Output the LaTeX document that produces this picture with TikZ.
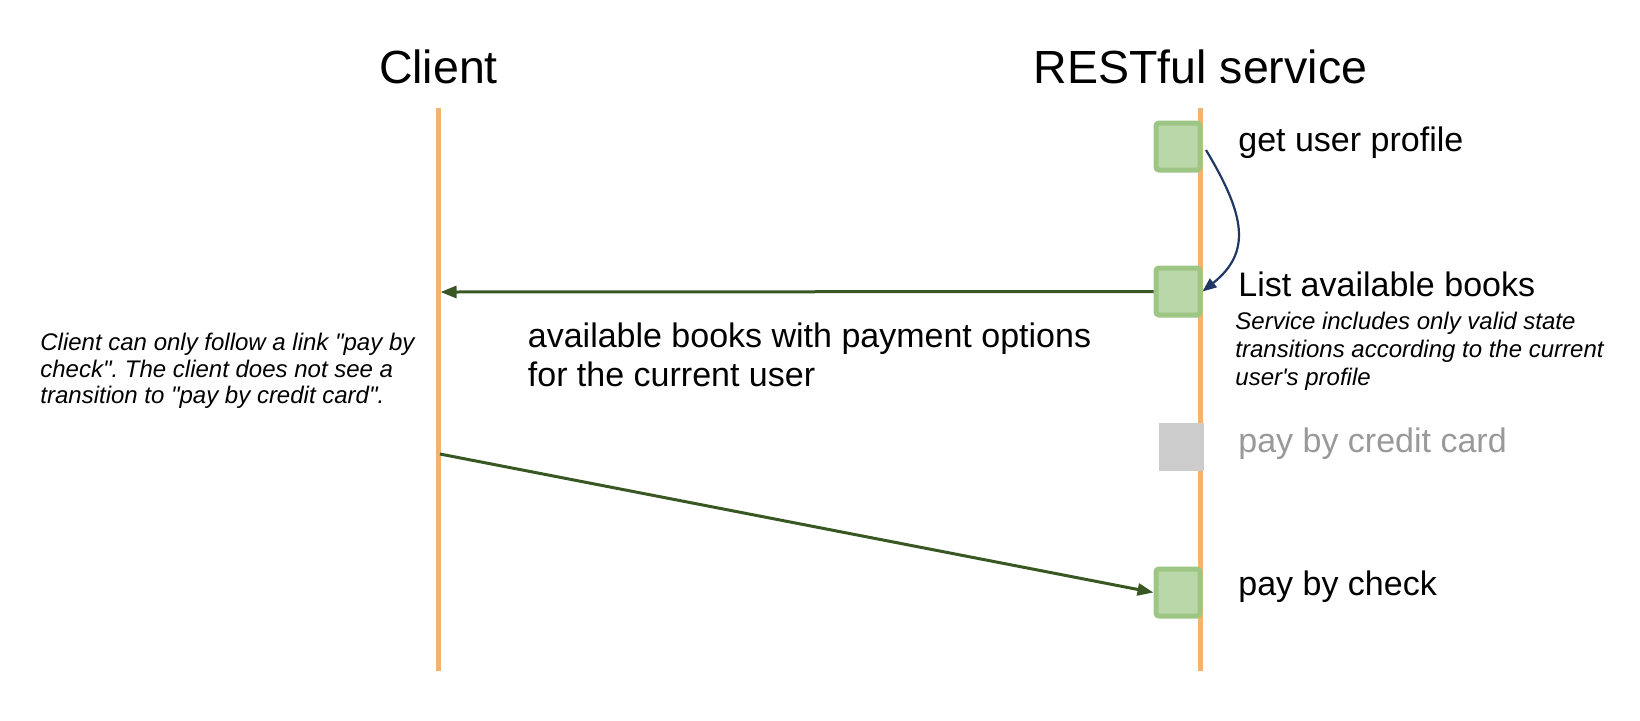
\documentclass[tikz,border=0pt]{standalone}
\usepackage{fontspec}
\setmainfont{Liberation Sans}
\newfontfamily\noteface{Liberation Sans}
\usetikzlibrary{arrows.meta}
\definecolor{lifeorange}{RGB}{241,180,112}
\definecolor{boxfill}{RGB}{185,215,168}
\definecolor{boxline}{RGB}{157,197,131}
\definecolor{greybox}{RGB}{204,204,204}
\definecolor{greytext}{RGB}{153,153,153}
\definecolor{arrowgreen}{RGB}{56,87,35}
\definecolor{navy}{RGB}{31,56,100}
\tikzset{
  titletext/.style={font=\fontsize{23.25}{28}\selectfont, anchor=base, inner sep=0pt},
  lifeline/.style={draw=lifeorange, line width=2.5pt},
  actbox/.style={draw=boxline, fill=boxfill, line width=2.5pt, rounded corners=1.5pt,
     minimum width=22pt, minimum height=23.5pt, inner sep=0pt},
  greyactbox/.style={fill=greybox, minimum width=22.5pt, minimum height=24pt, inner sep=0pt},
  steplabel/.style={font=\fontsize{17}{19.5}\selectfont, anchor=base west, inner sep=0pt},
  notetext/.style={align=left, anchor=north west, inner sep=0pt},
  msgarrow/.style={draw=arrowgreen, line width=1.5pt, -{Triangle[length=8pt,width=6pt]}},
  selfarrow/.style={draw=navy, line width=1.1pt, -{Triangle[length=7pt,width=5.5pt]}}
}
\frenchspacing
\begin{document}
\begin{tikzpicture}[x=0.5pt, y=-0.5pt]
\useasboundingbox (0,0) rectangle (1640,720);
% titles
\node[titletext] (ct) at (438.5,83) {Client};
\node[titletext] (st) at (1200.5,83) {RESTful service};
% lifelines
\coordinate (ctop) at (438,108);
\coordinate (cbot) at (438,671);
\coordinate (stop) at (1200.5,108);
\coordinate (sbot) at (1200.5,671);
\draw[lifeline] (ctop) -- (cbot);
\draw[lifeline] (stop) -- (sbot);
% activation boxes
\node[actbox] (box1) at (1178,146.5) {};
\node[actbox] (box2) at (1178,291.5) {};
\node[greyactbox] (box3) at (1181.5,447) {};
\node[actbox] (box4) at (1178,592.5) {};
% labels
\node[steplabel] (l1) at (1238,151) {get user profile};
\node[steplabel] (l2) at (1238,296) {List available books};
\node[steplabel, text=greytext] (l3) at (1238,452) {pay by credit card};
\node[steplabel] (l4) at (1238,595) {pay by check};
\node[notetext, font=\noteface\fontsize{12}{14}\selectfont\itshape] (rnote) at (1235,312)
  {Service includes only valid state\\transitions according to the current\\user's profile};
\node[notetext, font=\noteface\fontsize{12}{13.25}\selectfont\itshape] (lnote) at (40,333)
  {Client can only follow a link "pay by\\check". The client does not see a\\transition to "pay by credit card".};
\node[notetext, font=\fontsize{17}{19.5}\selectfont] (msg) at (527.5,322)
  {available books with payment options\\for the current user};
% connectors
\coordinate (cs) at (1206,150);
\draw[selfarrow] (cs) .. controls (1245,215) and (1252,252) .. (box2.east);
\coordinate (cin) at (440.5,292);
\draw[msgarrow] (box2.west) -- (cin);
\coordinate (cout) at (440,454);
\draw[msgarrow] (cout) -- (box4.west);
\end{tikzpicture}
\end{document}
